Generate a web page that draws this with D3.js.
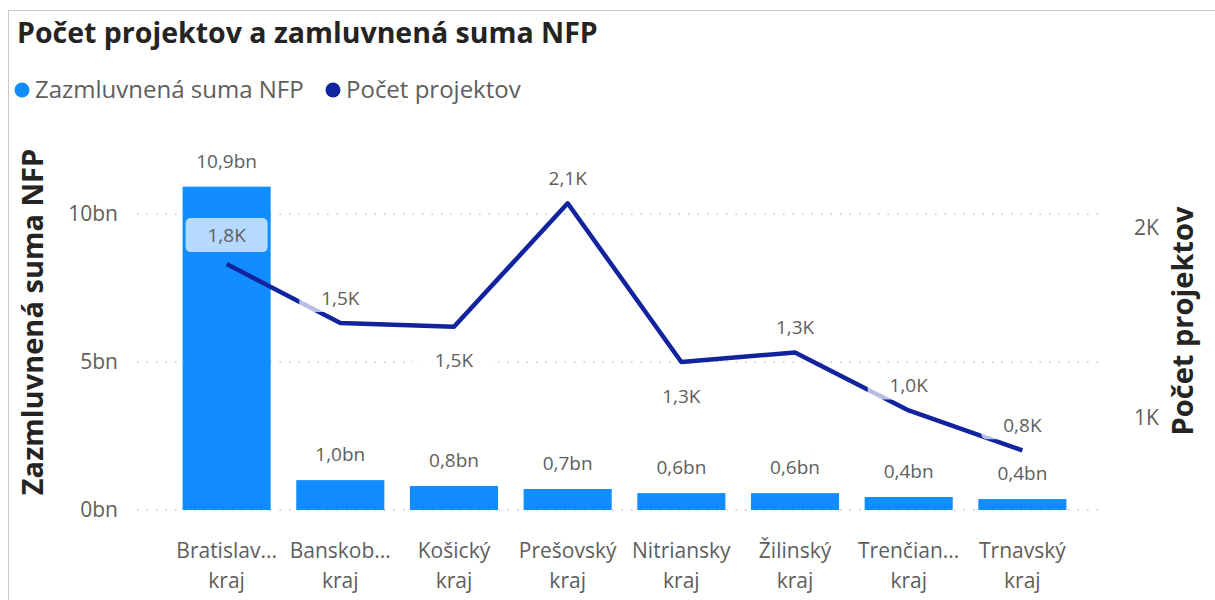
<!DOCTYPE html>
<html>
<head>
<meta charset="utf-8">
<script src="https://cdn.jsdelivr.net/npm/d3@7"></script>
<style>
  body { margin: 0; background: #fff; }
  svg { display: block; font-family: "Open Sans", sans-serif; }
</style>
</head>
<body>
<div id="chart"></div>
<script>
const categories = ["Bratislavský kraj", "Banskobystrický kraj", "Košický kraj", "Prešovský kraj",
    "Nitriansky kraj", "Žilinský kraj", "Trenčiansky kraj", "Trnavský kraj"];
// labels as shown on the axis (truncated by the visual)
const tickLines = [["Bratislav...", "kraj"], ["Banskob...", "kraj"], ["Košický", "kraj"], ["Prešovský", "kraj"],
    ["Nitriansky", "kraj"], ["Žilinský", "kraj"], ["Trenčian...", "kraj"], ["Trnavský", "kraj"]];
const sumaNFP = [10.93, 1.01, 0.81, 0.71, 0.57, 0.57, 0.44, 0.37];      // bn EUR
const pocetProjektov = [1810, 1500, 1480, 2130, 1295, 1345, 1040, 830];
const leftTicks = [0, 5, 10];
const rightTicks = [1000, 2000];
// label placement for the line: 1 = above, -1 = below
const lineLabelPos = [1, 1, -1, 1, -1, 1, 1, 1];

const W = 1215, H = 600;
const barColor = "#118DFF", lineColor = "#12239E", textGray = "#605E5C";

const svg = d3.select("#chart").append("svg")
    .attr("width", W)
    .attr("height", H);

// frame of the visual
svg.append("path")
    .attr("d", `M8.5,${H} V10.5 H${W}`)
    .attr("fill", "none")
    .attr("stroke", "#c8c8c8");

svg.append("text")
    .attr("x", 17).attr("y", 43)
    .attr("font-size", 28.5).attr("font-weight", 700)
    .attr("fill", "#252423")
    .text("Počet projektov a zamluvnená suma NFP");

// legend
const legend = [{ name: "Zazmluvnená suma NFP", color: barColor, x: 22 }, { name: "Počet projektov", color: lineColor, x: 333 }];
const lg = svg.selectAll("g.legend").data(legend).join("g")
    .attr("class", "legend")
    .attr("transform", d => `translate(${d.x}, 90)`);
lg.append("circle").attr("r", 7.5).attr("fill", d => d.color);
lg.append("text")
    .attr("x", 13).attr("dy", "0.35em")
    .attr("font-size", 24).attr("fill", textGray)
    .text(d => d.name);

const x = d3.scaleBand()
    .domain(categories)
    .range([157, 1092])
    .padding(0.225);

const yL = d3.scaleLinear().domain([0, 12]).range([510, 155]);
const yR = d3.scaleLinear().domain([500, 2400]).range([513, 152]);

// dotted gridlines
svg.append("g")
    .selectAll("line")
    .data(leftTicks)
    .join("line")
    .attr("x1", 137).attr("x2", 1106)
    .attr("y1", d => yL(d)).attr("y2", d => yL(d))
    .attr("stroke", "#c8c6c4")
    .attr("stroke-width", 1.5)
    .attr("stroke-dasharray", "1.5,8");

// left axis
const axL = svg.append("g")
    .attr("transform", "translate(118,0)")
    .call(d3.axisLeft(yL).tickValues(leftTicks).tickSize(0).tickPadding(0).tickFormat(d => d + "bn"));
axL.select(".domain").remove();
axL.selectAll("text").attr("font-size", 21).attr("fill", textGray).attr("font-family", "Open Sans");

// right axis
const axR = svg.append("g")
    .attr("transform", "translate(1134,0)")
    .call(d3.axisRight(yR).tickValues(rightTicks).tickSize(0).tickPadding(0).tickFormat(d => d / 1000 + "K"));
axR.select(".domain").remove();
axR.selectAll("text").attr("font-size", 21).attr("fill", textGray).attr("font-family", "Open Sans");

// axis titles
svg.append("text")
    .attr("transform", "translate(43,322) rotate(-90)")
    .attr("text-anchor", "middle")
    .attr("font-size", 29).attr("font-weight", 700).attr("fill", "#252423")
    .text("Zazmluvnená suma NFP");
svg.append("text")
    .attr("transform", "translate(1193,321) rotate(-90)")
    .attr("text-anchor", "middle")
    .attr("font-size", 29).attr("font-weight", 700).attr("fill", "#252423")
    .text("Počet projektov");

// x axis labels
const xl = svg.append("g").selectAll("text")
    .data(categories)
    .join("text")
    .attr("text-anchor", "middle")
    .attr("font-size", 21).attr("fill", textGray);
xl.selectAll("tspan")
    .data((d, i) => tickLines[i])
    .join("tspan")
    .attr("x", function () { return x(d3.select(this.parentNode).datum()) + x.bandwidth() / 2; })
    .attr("y", (d, j) => 558 + j * 30)
    .text(d => d);

// bars
svg.append("g").selectAll("rect")
    .data(sumaNFP)
    .join("rect")
    .attr("x", (d, i) => x(categories[i]))
    .attr("y", d => yL(d))
    .attr("width", x.bandwidth())
    .attr("height", d => yL(0) - yL(d))
    .attr("fill", barColor);

const fmt = v => d3.format(".1f")(v).replace(".", ",");

// bar labels
svg.append("g").selectAll("text")
    .data(sumaNFP)
    .join("text")
    .attr("x", (d, i) => x(categories[i]) + x.bandwidth() / 2)
    .attr("y", d => yL(d) - 19)
    .attr("text-anchor", "middle")
    .attr("font-size", 19).attr("fill", textGray)
    .text(d => fmt(d) + "bn");

// line
const cx = i => x(categories[i]) + x.bandwidth() / 2;
const line = d3.line()
    .x((d, i) => cx(i))
    .y(d => yR(d));
svg.append("path")
    .datum(pocetProjektov)
    .attr("d", line)
    .attr("fill", "none")
    .attr("stroke", lineColor)
    .attr("stroke-width", 4.5)
    .attr("stroke-linejoin", "round");

// line labels with a soft background
const ll = svg.append("g").selectAll("g")
    .data(pocetProjektov)
    .join("g")
    .attr("transform", (d, i) => {
        const dy = i === 0 ? -29 : lineLabelPos[i] > 0 ? -25 : 34;
        return `translate(${cx(i)}, ${yR(d) + dy})`;
    });
ll.append("rect")
    .attr("x", -41)
    .attr("y", (d, i) => i === 0 ? -17 : -14)
    .attr("width", 82)
    .attr("height", (d, i) => i === 0 ? 34 : 28)
    .attr("rx", 5)
    .attr("fill", (d, i) => i === 0 ? "#b6d9ff" : "#fff")
    .attr("fill-opacity", (d, i) => i === 0 ? 1 : 0.7);
ll.append("text")
    .attr("text-anchor", "middle")
    .attr("dy", "0.35em")
    .attr("font-size", 19).attr("fill", textGray)
    .text(d => fmt(d / 1000) + "K");
</script>
</body>
</html>
